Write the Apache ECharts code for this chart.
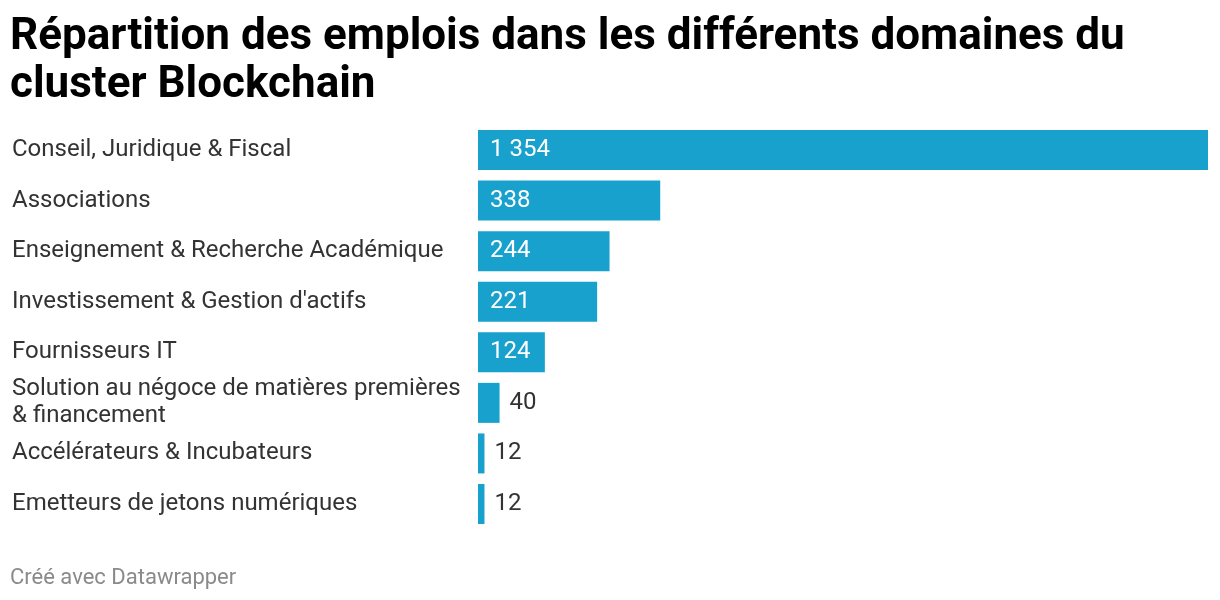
<!DOCTYPE html>
<html>
<head>
<meta charset="utf-8">
<script src="https://cdn.jsdelivr.net/npm/echarts@6/dist/echarts.min.js"></script>
<style>
  html, body { margin: 0; padding: 0; background: #fff; }
  #chart { width: 1220px; height: 600px; }
</style>
</head>
<body>
<div id="chart"></div>
<script>
const categories = [
  "Conseil, Juridique & Fiscal",
  "Associations",
  "Enseignement & Recherche Académique",
  "Investissement & Gestion d'actifs",
  "Fournisseurs IT",
  "Solution au négoce de matières premières\n& financement",
  "Accélérateurs & Incubateurs",
  "Emetteurs de jetons numériques"
];
const values = [1354, 338, 244, 221, 124, 40, 12, 12];

const fmt = v => String(v).replace(/\B(?=(\d{3})+(?!\d))/g, ' ');

const chart = echarts.init(document.getElementById('chart'), null, { renderer: 'canvas' });
chart.setOption({
  animation: false,
  textStyle: { fontFamily: 'Roboto' },
  title: [
    {
      text: 'Répartition des emplois dans les différents domaines du\ncluster Blockchain',
      left: 10, top: 14, padding: 0,
      textStyle: { fontFamily: 'Roboto', fontWeight: 'bold', fontSize: 44, lineHeight: 48, color: '#000' }
    },
    {
      text: 'Créé avec Datawrapper',
      left: 10, top: 567, padding: 0,
      textStyle: { fontFamily: 'Roboto', fontWeight: 'normal', fontSize: 22, color: '#8a8a8a' }
    }
  ],
  grid: { left: 478, right: 12, top: 124.7, bottom: 70.7, containLabel: false },
  xAxis: {
    type: 'value', min: 0, max: 1354, show: false
  },
  yAxis: {
    type: 'category', inverse: true, data: categories,
    axisLine: { show: false }, axisTick: { show: false }, splitLine: { show: false },
    axisLabel: {
      align: 'left', margin: 466, color: '#333', fontSize: 24, fontFamily: 'Roboto',
      lineHeight: 27
    }
  },
  series: [{
    type: 'bar',
    barWidth: 40,
    barMinWidth: 8,
    data: values.map(v => ({
      value: v,
      label: v >= 100
        ? { position: 'insideLeft', distance: 12, color: '#fff' }
        : { position: 'right', distance: 10, color: '#333' }
    })),
    itemStyle: { color: '#18a1cd' },
    label: {
      show: true, fontSize: 24, fontFamily: 'Roboto',
      formatter: p => fmt(p.value)
    }
  }]
});
</script>
</body>
</html>
